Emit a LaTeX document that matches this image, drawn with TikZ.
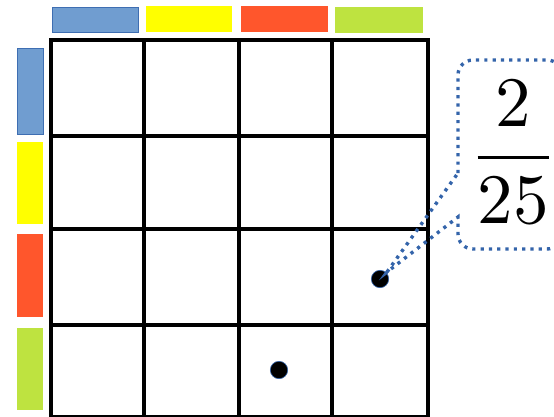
\documentclass[tikz,border=0pt]{standalone}
\definecolor{barblue}{RGB}{112,157,208}
\definecolor{barblueedge}{RGB}{62,110,178}
\definecolor{baryellow}{RGB}{255,255,0}
\definecolor{barred}{RGB}{255,86,44}
\definecolor{bargreen}{RGB}{190,227,64}
\definecolor{callblue}{RGB}{52,100,170}
\tikzset{
  gridline/.style={line width=4.5pt, black},
  barblue/.style={fill=barblue, draw=barblueedge, line width=0.9pt},
  bar/.style={draw=none},
  dotpt/.style={fill=black, draw=callblue, line width=0.6pt},
  calloutline/.style={draw=callblue, line width=3.4pt, dash pattern=on 3.2pt off 5.1pt}
}
\begin{document}
\begin{tikzpicture}[x=1pt,y=1pt]
\useasboundingbox (0,0) rectangle (554,416);
\clip (0,0) rectangle (554,416);
% top bars
\draw[barblue] (52,384) rectangle (138,409);
\fill[bar,fill=baryellow] (146,384) rectangle (232,410);
\fill[bar,fill=barred] (241,384) rectangle (328,410);
\fill[bar,fill=bargreen] (335,383) rectangle (423,409);
% left bars
\draw[barblue] (17,282) rectangle (43,368);
\fill[bar,fill=baryellow] (17,192) rectangle (43,274);
\fill[bar,fill=barred] (17,99) rectangle (43,182);
\fill[bar,fill=bargreen] (17,6) rectangle (43,88);
% grid
\foreach \x in {144,239,332} \draw[gridline] (\x,-3) -- (\x,376);
\foreach \y in {280,187,91} \draw[gridline] (51,\y) -- (428,\y);
\draw[gridline] (51,-3) -- (51,376) -- (428,376) -- (428,-3);
\draw[gridline] (51,-1) -- (428,-1);
% dots
\draw[dotpt] (279,46) circle[radius=8.7];
\draw[dotpt] (380,137) circle[radius=8.7];
% callout
\draw[calloutline] (458,243) -- (458,341) arc[start angle=180,end angle=90,radius=15]
  -- (547,356) arc[start angle=90,end angle=0,radius=15]
  -- (562,182) arc[start angle=0,end angle=-90,radius=15]
  -- (473,167) arc[start angle=-90,end angle=-180,radius=15]
  -- (458,199) -- (387,144) -- cycle;
\node[anchor=base, inner sep=0pt, scale=7.1] (frac) at (513,241)
  {\fontsize{10}{12}\selectfont$\displaystyle\frac{2}{25}$};
\end{tikzpicture}
\end{document}
